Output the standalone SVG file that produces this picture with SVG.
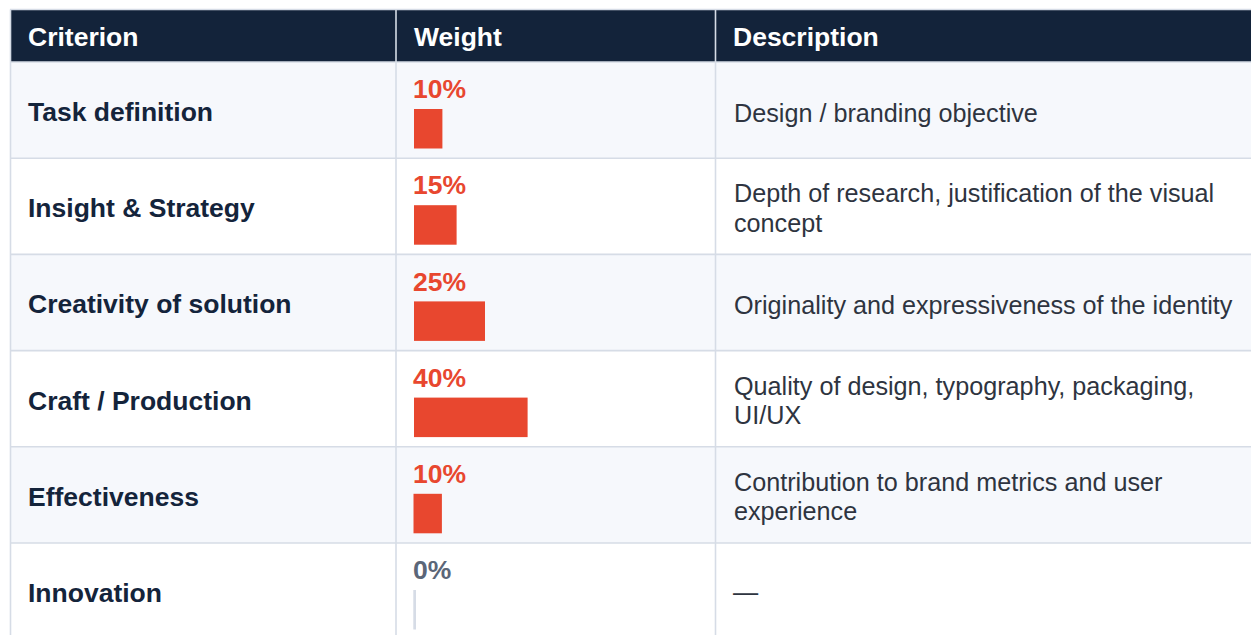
<svg xmlns="http://www.w3.org/2000/svg" width="1251" height="635" viewBox="0 0 1251 635">
<style>
.hd{font-family:"Liberation Sans",Arial,sans-serif;font-weight:bold;font-size:26.5px;fill:#ffffff}
.cr{font-family:"Liberation Sans",Arial,sans-serif;font-weight:bold;font-size:26.5px;fill:#14243b}
.pc{font-family:"Liberation Sans",Arial,sans-serif;font-weight:bold;font-size:26.5px;fill:#e8472f}
.pz{font-family:"Liberation Sans",Arial,sans-serif;font-weight:bold;font-size:26.5px;fill:#5b6678}
.ds{font-family:"Liberation Sans",Arial,sans-serif;font-size:25.2px;fill:#2e3440}
.bar{fill:#e8472f}
.odd{fill:#f6f8fc}
.even{fill:#ffffff}
.ln{stroke:#d6dce6;stroke-width:1.6;fill:none}
</style>
<rect x="0" y="0" width="1251" height="635" fill="#ffffff"/>
<g id="header">
<rect x="10" y="10" width="1241" height="52" fill="#13233a"/>
<text class="hd" x="28" y="46">Criterion</text>
<text class="hd" x="414" y="46">Weight</text>
<text class="hd" x="733" y="46">Description</text>
</g>
<g id="row1">
<rect class="odd" x="10" y="62" width="1241" height="96.2"/>
<text class="cr" x="28" y="121">Task definition</text>
<text class="pc" x="413" y="98">10%</text>
<rect class="bar" x="414" y="109" width="28.4" height="39.5"/>
<text class="ds" x="734" y="121.5">Design / branding objective</text>
</g>
<g id="row2">
<rect class="even" x="10" y="158.2" width="1241" height="96.2"/>
<text class="cr" x="28" y="217.2">Insight &amp; Strategy</text>
<text class="pc" x="413" y="194.4">15%</text>
<rect class="bar" x="414" y="205.2" width="42.6" height="39.5"/>
<text class="ds" x="734" y="202.2">Depth of research, justification of the visual</text>
<text class="ds" x="734" y="231.7">concept</text>
</g>
<g id="row3">
<rect class="odd" x="10" y="254.4" width="1241" height="96.2"/>
<text class="cr" x="28" y="313.4">Creativity of solution</text>
<text class="pc" x="413" y="290.6">25%</text>
<rect class="bar" x="414" y="301.4" width="71" height="39.5"/>
<text class="ds" x="734" y="313.9">Originality and expressiveness of the identity</text>
</g>
<g id="row4">
<rect class="even" x="10" y="350.6" width="1241" height="96.2"/>
<text class="cr" x="28" y="409.6">Craft / Production</text>
<text class="pc" x="413" y="386.8">40%</text>
<rect class="bar" x="414" y="397.6" width="113.6" height="39.5"/>
<text class="ds" x="734" y="394.6">Quality of design, typography, packaging,</text>
<text class="ds" x="734" y="424.1">UI/UX</text>
</g>
<g id="row5">
<rect class="odd" x="10" y="446.8" width="1241" height="96.2"/>
<text class="cr" x="28" y="505.8">Effectiveness</text>
<text class="pc" x="413" y="483">10%</text>
<rect class="bar" x="413.5" y="493.8" width="28.4" height="39.5"/>
<text class="ds" x="734" y="490.8">Contribution to brand metrics and user</text>
<text class="ds" x="734" y="520.3">experience</text>
</g>
<g id="row6">
<rect class="even" x="10" y="543" width="1241" height="92"/>
<text class="cr" x="28" y="602">Innovation</text>
<text class="pz" x="413" y="579.2">0%</text>
<rect x="413.3" y="590" width="2.7" height="39.5" fill="#d6dce6"/>
<text class="ds" x="733" y="601">—</text>
</g>
<g id="gridlines">
<line class="ln" x1="10" y1="9.5" x2="1251" y2="9.5"/>
<line class="ln" x1="10.5" y1="9.5" x2="10.5" y2="635"/>
<line class="ln" x1="396" y1="10" x2="396" y2="635"/>
<line class="ln" x1="715.5" y1="10" x2="715.5" y2="635"/>
<line class="ln" x1="10" y1="62" x2="1251" y2="62"/>
<line class="ln" x1="10" y1="158.2" x2="1251" y2="158.2"/>
<line class="ln" x1="10" y1="254.4" x2="1251" y2="254.4"/>
<line class="ln" x1="10" y1="350.6" x2="1251" y2="350.6"/>
<line class="ln" x1="10" y1="446.8" x2="1251" y2="446.8"/>
<line class="ln" x1="10" y1="543" x2="1251" y2="543"/>
</g>
</svg>
